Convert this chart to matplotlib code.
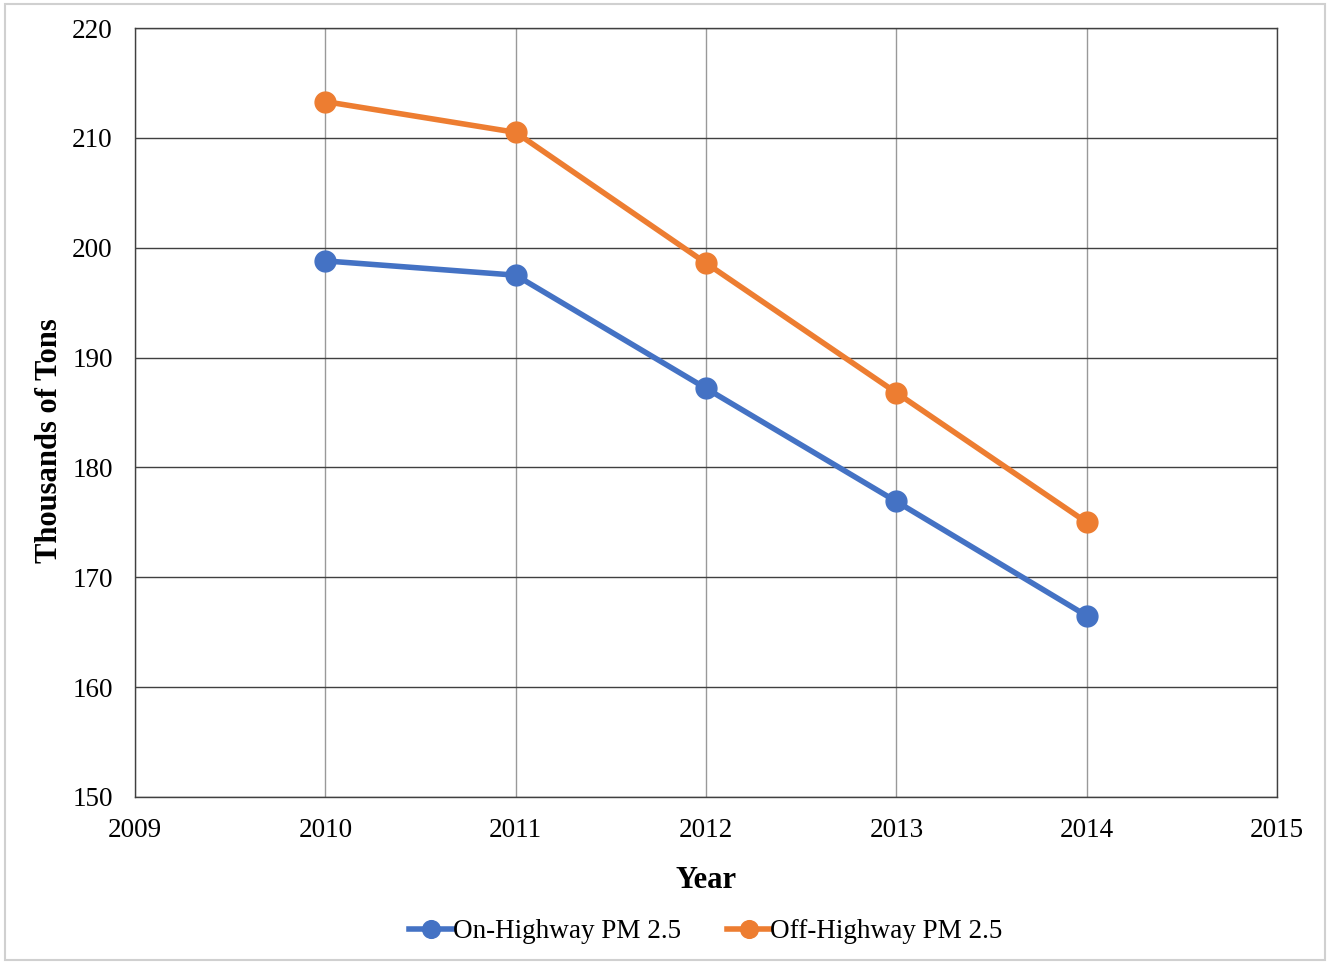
import matplotlib
import matplotlib.pyplot as plt
from matplotlib.patches import Rectangle

matplotlib.use('Agg')
plt.rcParams['font.family'] = ['Liberation Serif', 'DejaVu Serif']

# data
years = [2010, 2011, 2012, 2013, 2014]
on_highway = [198.8, 197.5, 187.2, 176.9, 166.5]
off_highway = [213.3, 210.5, 198.6, 186.8, 175.0]
x_ticks = [2009, 2010, 2011, 2012, 2013, 2014, 2015]
y_ticks = [150, 160, 170, 180, 190, 200, 210, 220]

fig = plt.figure(figsize=(13.31, 9.64), dpi=100)
ax = fig.add_axes([135 / 1331, 1 - 797 / 964, (1277 - 135) / 1331, (797 - 28) / 964])

ax.plot(years, on_highway, color='#4472C4', lw=4, marker='o', ms=15,
        label='On-Highway PM 2.5', zorder=3)
ax.plot(years, off_highway, color='#ED7D31', lw=4, marker='o', ms=15,
        label='Off-Highway PM 2.5', zorder=3)

ax.set_xlim(2009, 2015)
ax.set_ylim(150, 220)
ax.set_xticks(x_ticks)
ax.set_yticks(y_ticks)
ax.tick_params(length=0, labelsize=19.5)
ax.tick_params(axis='y', pad=16)
ax.tick_params(axis='x', pad=15)
ax.yaxis.grid(True, color='#404040', lw=1)
ax.xaxis.grid(True, color='#999999', lw=1)
ax.set_axisbelow(True)
for s in ax.spines.values():
    s.set_color('#404040')
    s.set_linewidth(1)

ax.set_xlabel('Year', fontsize=22, fontweight='bold', labelpad=17)
ax.set_ylabel('Thousands of Tons', fontsize=22, fontweight='bold', labelpad=6)
ax.yaxis.label.set_y(0.464)

ax.legend(loc='upper center', bbox_to_anchor=(0.5, -0.127), ncol=2, frameon=False,
          fontsize=19.5, handlelength=1.6, handletextpad=0.0, columnspacing=1.7,
          markerscale=0.85)

fig.patches.append(Rectangle((5 / 1331, 4 / 964), 1320 / 1331, 956 / 964,
                             transform=fig.transFigure, fill=False,
                             edgecolor='#d0d0d0', lw=1.5))

fig.savefig('out.png', dpi=100)
